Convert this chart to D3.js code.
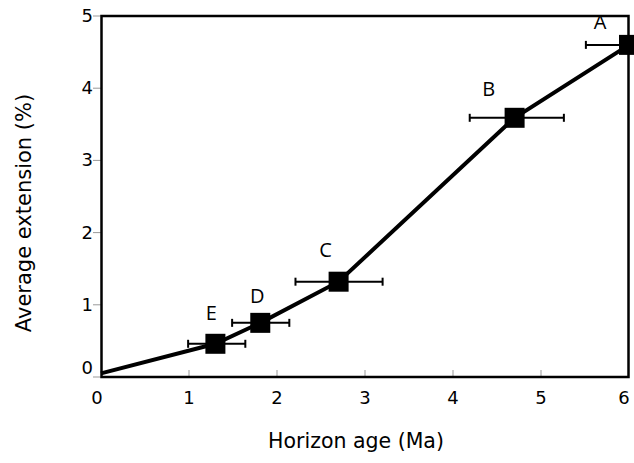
<!DOCTYPE html>
<html><head><meta charset="utf-8">
<script src="https://cdn.jsdelivr.net/npm/d3@7"></script>
<style>body{margin:0;background:#fff}svg{display:block}</style>
</head><body>
<svg id="c" width="634" height="463"></svg>
<script>
const labels = ["E","D","C","B","A"];
const ages = [1.30, 1.81, 2.70, 4.70, 6.00];
const extension = [0.46, 0.75, 1.32, 3.59, 4.60];
const errLow = [0.99, 1.49, 2.21, 4.19, 5.51];
const errHigh = [1.64, 2.14, 3.20, 5.26, 6.00];
const origin = [0, 0.05];
const xTicks = [0,1,2,3,4,5,6];
const yTicks = [0,1,2,3,4,5];

const svg = d3.select("#c");
const x = d3.scaleLinear().domain([0,6]).range([101,629]);
const y = d3.scaleLinear().domain([0,5]).range([377,16]);
const font = "DejaVu Sans";

// ticks
svg.append("g").selectAll("line").data(xTicks.slice(1,-1)).join("line")
  .attr("x1",d=>x(d)).attr("x2",d=>x(d)).attr("y1",y(0)).attr("y2",y(0)-7)
  .attr("stroke","#999").attr("stroke-width",1);
svg.append("g").selectAll("line").data(yTicks).join("line")
  .attr("x1",x(0)-8).attr("x2",x(0)).attr("y1",d=>y(d)).attr("y2",d=>y(d))
  .attr("stroke","#999").attr("stroke-width",1);

// frame
svg.append("rect").attr("x",x(0)+0.5).attr("y",y(5)).attr("width",x(6)-x(0)-1).attr("height",y(0)-y(5))
  .attr("fill","none").attr("stroke","#000").attr("stroke-width",2.5);

// tick labels
svg.append("g").selectAll("text").data(xTicks).join("text")
  .attr("x",d=>x(d)-(d===0?4:d===6?5:0)).attr("y",404).attr("text-anchor","middle")
  .attr("font-family",font).attr("font-size",18).text(d=>d);
svg.append("g").selectAll("text").data(yTicks).join("text")
  .attr("x",x(0)-8).attr("y",d=>y(d)+(d===0?-3:6)).attr("text-anchor","end")
  .attr("font-family",font).attr("font-size",18).text(d=>d);

// axis titles
svg.append("text").attr("x",356).attr("y",448).attr("text-anchor","middle")
  .attr("font-family",font).attr("font-size",20.5).text("Horizon age (Ma)");
svg.append("text").attr("transform","translate(31,213) rotate(-90)").attr("text-anchor","middle")
  .attr("font-family",font).attr("font-size",21).text("Average extension (%)");

// line
const pts = [origin].concat(ages.map((a,i)=>[a,extension[i]]));
svg.append("path").attr("d",d3.line().x(d=>x(d[0])).y(d=>y(d[1]))(pts))
  .attr("fill","none").attr("stroke","#000").attr("stroke-width",4);

// error bars
const eb = svg.append("g").attr("stroke","#000").attr("stroke-width",2);
ages.forEach((a,i)=>{
  eb.append("line").attr("x1",x(errLow[i])).attr("x2",x(errHigh[i])).attr("y1",y(extension[i])).attr("y2",y(extension[i]));
  eb.append("line").attr("x1",x(errLow[i])).attr("x2",x(errLow[i])).attr("y1",y(extension[i])-4).attr("y2",y(extension[i])+4);
  if (errHigh[i] < 6) eb.append("line").attr("x1",x(errHigh[i])).attr("x2",x(errHigh[i])).attr("y1",y(extension[i])-4).attr("y2",y(extension[i])+4);
});

// squares
svg.append("g").selectAll("rect").data(ages).join("rect")
  .attr("x",(d)=>x(d)-10).attr("y",(d,i)=>y(extension[i])-10).attr("width",20).attr("height",20).attr("fill","#000");

// point labels
const lblOff = [[-4,-24],[-3,-20],[-13,-25],[-26,-22],[-29,-16]];
svg.append("g").selectAll("text").data(labels).join("text")
  .attr("x",(d,i)=>x(ages[i])+lblOff[i][0]).attr("y",(d,i)=>y(extension[i])+lblOff[i][1])
  .attr("text-anchor","middle").attr("font-family","Open Sans").attr("font-size",20).text(d=>d);
</script>
</body></html>
